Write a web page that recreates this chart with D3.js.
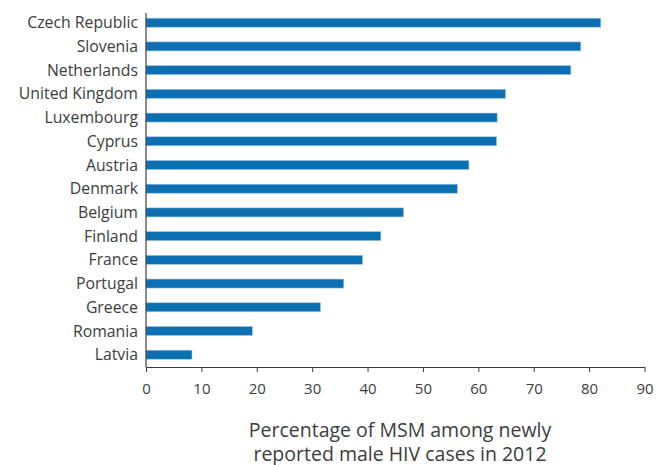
<!DOCTYPE html>
<html>
<head>
<meta charset="utf-8">
<script src="https://cdn.jsdelivr.net/npm/d3@7"></script>
<style>
  body { margin: 0; background: #fff; }
  svg text { font-family: "Open Sans", sans-serif; fill: #3c3c3c; }
</style>
</head>
<body>
<svg id="chart" width="668" height="465"></svg>
<script>
// Data
const countries = ['Czech Republic', 'Slovenia', 'Netherlands', 'United Kingdom', 'Luxembourg',
    'Cyprus', 'Austria', 'Denmark', 'Belgium', 'Finland', 'France', 'Portugal', 'Greece',
    'Romania', 'Latvia'];
const msmPercent = [82.1, 78.5, 76.7, 64.9, 63.4, 63.3, 58.3, 56.2, 46.5, 42.4, 39.1, 35.7, 31.5, 19.2, 8.3];
const xTicks = [0, 10, 20, 30, 40, 50, 60, 70, 80, 90];
const axisTitle = ['Percentage of MSM among newly', 'reported male HIV cases in 2012'];

const svg = d3.select('#chart');
const x0 = 146, x1 = 644.5, axisY = 367;

const x = d3.scaleLinear().domain([0, 90]).range([x0, x1]);
const y = d3.scalePoint().domain(countries).range([22.7, 354.7]);
const barH = 9;

// bars
svg.selectAll('rect.bar')
    .data(countries)
    .enter()
    .append('rect')
    .attr('class', 'bar')
    .attr('x', x(0))
    .attr('y', d => y(d) - barH / 2)
    .attr('width', (d, i) => x(msmPercent[i]) - x(0))
    .attr('height', barH)
    .attr('fill', '#0c6fb1')
    .attr('stroke', '#9cc3e2')
    .attr('stroke-width', 0.6);

// y axis line
svg.append('line')
    .attr('x1', x0).attr('x2', x0)
    .attr('y1', 13).attr('y2', axisY)
    .attr('stroke', '#3c3c3c').attr('stroke-width', 1.2);

// country labels
svg.selectAll('text.country')
    .data(countries)
    .enter()
    .append('text')
    .attr('class', 'country')
    .attr('x', 138)
    .attr('y', d => y(d))
    .attr('dy', '0.35em')
    .attr('text-anchor', 'end')
    .attr('font-size', 15.8)
    .text(d => d);

// x axis
const xAxis = d3.axisBottom(x).tickValues(xTicks).tickSize(5).tickSizeOuter(0);
const gx = svg.append('g')
    .attr('transform', `translate(0,${axisY})`)
    .call(xAxis);
gx.select('.domain').attr('stroke', '#3c3c3c').attr('stroke-width', 1.2);
gx.selectAll('.tick line').attr('stroke', '#3c3c3c');
gx.selectAll('.tick text')
    .attr('font-size', 15)
    .attr('font-family', '"Open Sans", sans-serif')
    .attr('fill', '#3c3c3c')
    .attr('y', 16);

// axis title
svg.selectAll('text.title')
    .data(axisTitle)
    .enter()
    .append('text')
    .attr('class', 'title')
    .attr('x', 400)
    .attr('y', (d, i) => 437 + i * 24)
    .attr('text-anchor', 'middle')
    .attr('font-size', 19.5)
    .text(d => d);
</script>
</body>
</html>
